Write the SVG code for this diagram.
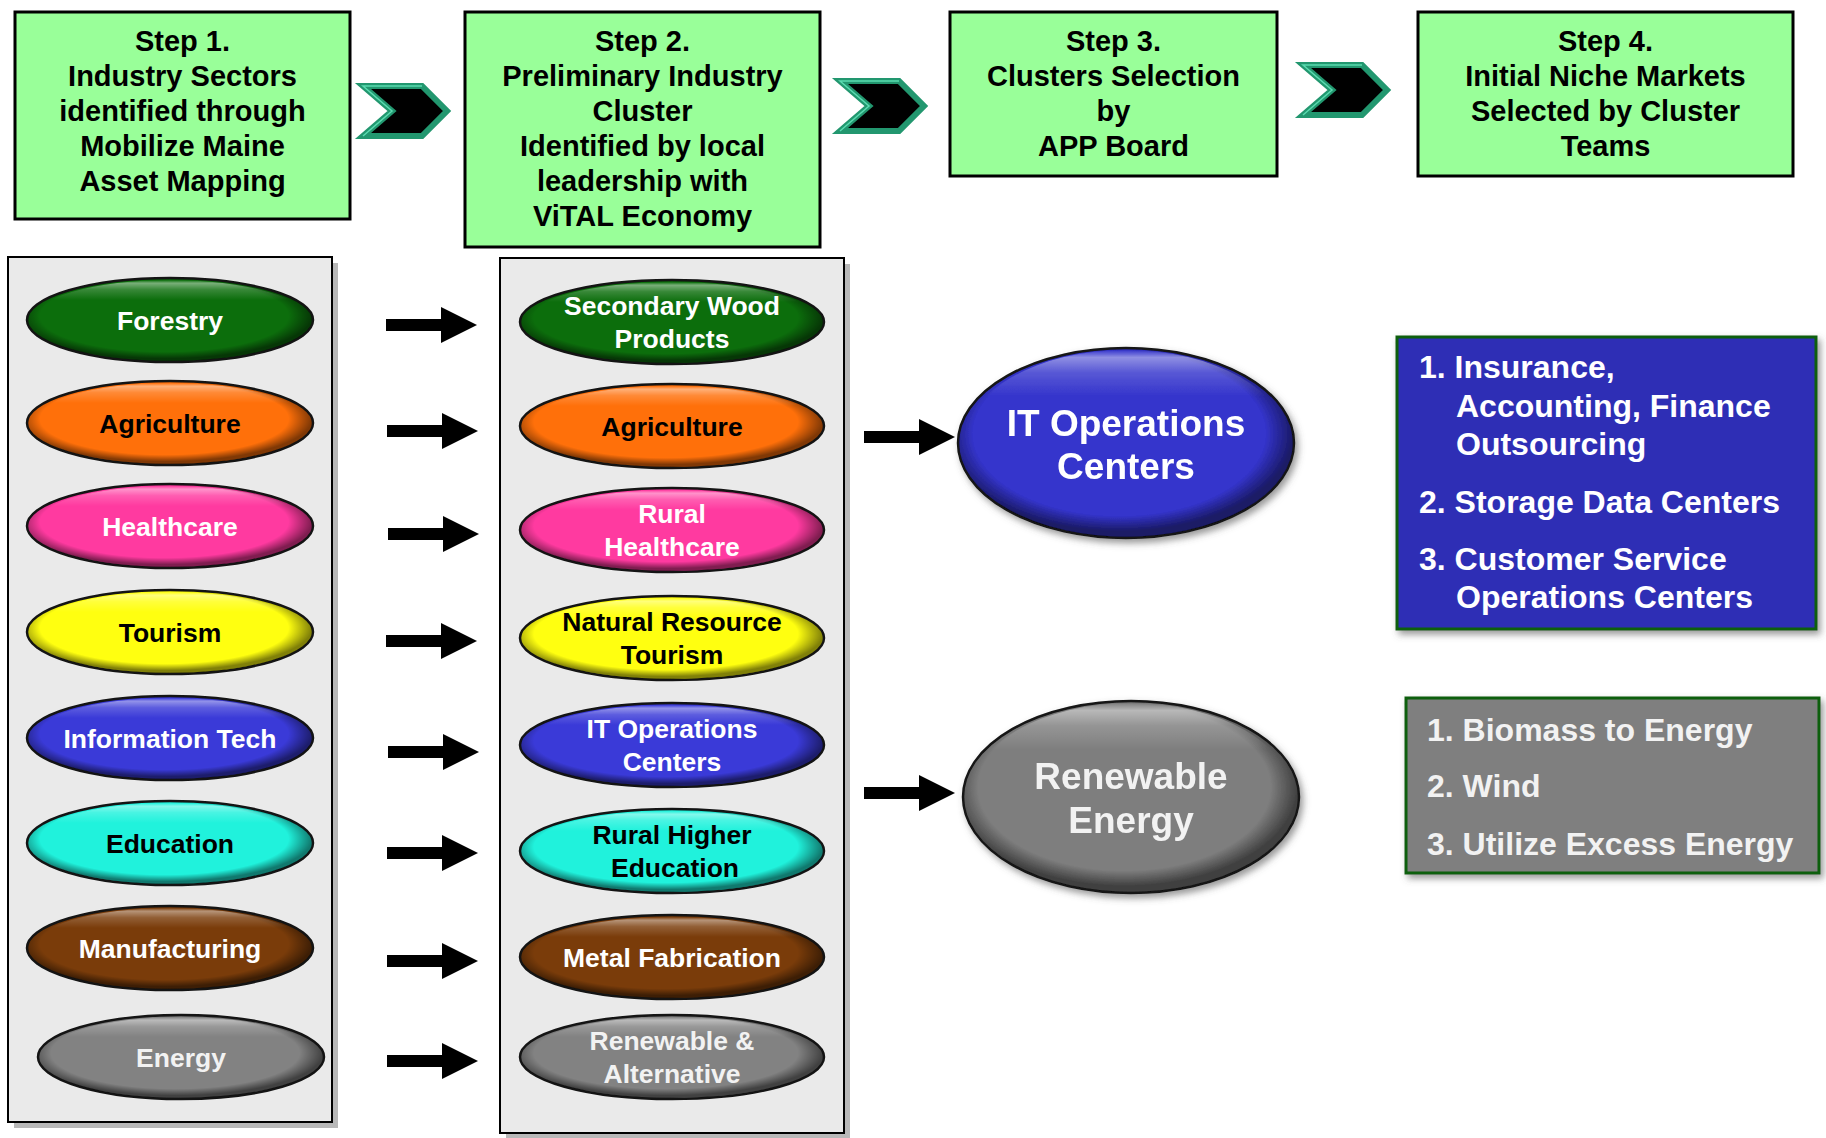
<svg xmlns="http://www.w3.org/2000/svg" width="1826" height="1138" viewBox="0 0 1826 1138">
<defs>
<style>
.step{fill:#99FF99;stroke:#000;stroke-width:3}
.t{font-family:"Liberation Sans",Arial,Helvetica,sans-serif;font-weight:bold;text-anchor:middle}
.st{font-size:29px;fill:#000}
.panel{fill:#EAEAEA;stroke:#000;stroke-width:2}
.pshadow{fill:#B8B8B8}
.pill{stroke:#141414;stroke-width:2.5}
.gloss{fill:url(#gloss)}
.rim{fill:url(#rim)}
.lt{font-size:26.5px}
.w{fill:#FFFFFF}
.g{fill:#F2F2F2}
.k{fill:#000000}
.big{font-size:37px}
.list{font-size:32px;text-anchor:start}
.box{stroke:#0B5E0B;stroke-width:3}
.chev{fill:#000;stroke:#22976F;stroke-width:6;stroke-linejoin:miter}
.chevhl{fill:none;stroke:#5ADBB0;stroke-width:1.5}
.arrow{fill:#000}
</style>
<linearGradient id="gloss" x1="0" y1="0" x2="0" y2="1">
<stop offset="0" stop-color="#fff" stop-opacity="0"/>
<stop offset="0.04" stop-color="#fff" stop-opacity="0.45"/>
<stop offset="0.12" stop-color="#fff" stop-opacity="0.18"/>
<stop offset="0.25" stop-color="#fff" stop-opacity="0"/>
<stop offset="1" stop-color="#fff" stop-opacity="0"/>
</linearGradient>
<radialGradient id="rim" cx="0.48" cy="0.45" r="0.52">
<stop offset="0" stop-color="#000" stop-opacity="0"/>
<stop offset="0.84" stop-color="#000" stop-opacity="0"/>
<stop offset="1" stop-color="#000" stop-opacity="0.5"/>
</radialGradient>
<filter id="soft" x="-10%" y="-10%" width="125%" height="130%">
<feGaussianBlur in="SourceAlpha" stdDeviation="3.5"/>
<feOffset dx="3" dy="4" result="b"/>
<feFlood flood-color="#555" flood-opacity="0.6"/>
<feComposite in2="b" operator="in"/>
<feMerge><feMergeNode/><feMergeNode in="SourceGraphic"/></feMerge>
</filter>
<path id="chev" d="M1,1 H60 L85,26 L60,51 H1 L30,26 Z"/>
<path id="chevh" d="M1,51 L30,26 L1,1 H60"/>
<path id="arr" d="M0,-6 H55 V-18 L91,0 L55,18 V6 H0 Z"/>
</defs>

<!-- Step boxes -->
<g id="step1">
<rect class="step" x="15" y="12" width="335" height="207"/>
<text class="t st" x="182.5" y="51">Step 1.</text>
<text class="t st" x="182.5" y="86">Industry Sectors</text>
<text class="t st" x="182.5" y="121">identified through</text>
<text class="t st" x="182.5" y="156">Mobilize Maine</text>
<text class="t st" x="182.5" y="191">Asset Mapping</text>
</g>
<g id="step2">
<rect class="step" x="465" y="12" width="355" height="235"/>
<text class="t st" x="642.5" y="51">Step 2.</text>
<text class="t st" x="642.5" y="86">Preliminary Industry</text>
<text class="t st" x="642.5" y="121">Cluster</text>
<text class="t st" x="642.5" y="156">Identified by local</text>
<text class="t st" x="642.5" y="191">leadership with</text>
<text class="t st" x="642.5" y="226">ViTAL Economy</text>
</g>
<g id="step3">
<rect class="step" x="950" y="12" width="327" height="164"/>
<text class="t st" x="1113.5" y="51">Step 3.</text>
<text class="t st" x="1113.5" y="86">Clusters Selection</text>
<text class="t st" x="1113.5" y="121">by</text>
<text class="t st" x="1113.5" y="156">APP Board</text>
</g>
<g id="step4">
<rect class="step" x="1418" y="12" width="375" height="164"/>
<text class="t st" x="1605.5" y="51">Step 4.</text>
<text class="t st" x="1605.5" y="86">Initial Niche Markets</text>
<text class="t st" x="1605.5" y="121">Selected by Cluster</text>
<text class="t st" x="1605.5" y="156">Teams</text>
</g>

<!-- Panels -->
<g id="panel-left">
<rect class="pshadow" x="14" y="263" width="324" height="865"/>
<rect class="panel" x="8" y="257" width="324" height="865"/>
</g>
<g id="panel-middle">
<rect class="pshadow" x="506" y="264" width="344" height="875"/>
<rect class="panel" x="500" y="258" width="344" height="875"/>
</g>

<!-- Left column sectors -->
<g id="forestry">
<ellipse class="pill" cx="170" cy="320" rx="143" ry="42" fill="#0C6E0C"/>
<ellipse class="rim" cx="170" cy="320" rx="142" ry="41"/>
<ellipse class="gloss" cx="170" cy="320" rx="138" ry="40"/>
<text class="t lt w" x="170" y="329.5">Forestry</text>
</g>
<g id="agriculture">
<ellipse class="pill" cx="170" cy="423" rx="143" ry="42" fill="#FF700A"/>
<ellipse class="rim" cx="170" cy="423" rx="142" ry="41"/>
<ellipse class="gloss" cx="170" cy="423" rx="138" ry="40"/>
<text class="t lt k" x="170" y="432.5">Agriculture</text>
</g>
<g id="healthcare">
<ellipse class="pill" cx="170" cy="526" rx="143" ry="42" fill="#FF3AA0"/>
<ellipse class="rim" cx="170" cy="526" rx="142" ry="41"/>
<ellipse class="gloss" cx="170" cy="526" rx="138" ry="40"/>
<text class="t lt w" x="170" y="535.5">Healthcare</text>
</g>
<g id="tourism">
<ellipse class="pill" cx="170" cy="632" rx="143" ry="42" fill="#FFFF10"/>
<ellipse class="rim" cx="170" cy="632" rx="142" ry="41"/>
<ellipse class="gloss" cx="170" cy="632" rx="138" ry="40"/>
<text class="t lt k" x="170" y="641.5">Tourism</text>
</g>
<g id="information-tech">
<ellipse class="pill" cx="170" cy="738" rx="143" ry="42" fill="#3A3AD8"/>
<ellipse class="rim" cx="170" cy="738" rx="142" ry="41"/>
<ellipse class="gloss" cx="170" cy="738" rx="138" ry="40"/>
<text class="t lt w" x="170" y="747.5">Information Tech</text>
</g>
<g id="education">
<ellipse class="pill" cx="170" cy="843" rx="143" ry="42" fill="#20F2DC"/>
<ellipse class="rim" cx="170" cy="843" rx="142" ry="41"/>
<ellipse class="gloss" cx="170" cy="843" rx="138" ry="40"/>
<text class="t lt k" x="170" y="852.5">Education</text>
</g>
<g id="manufacturing">
<ellipse class="pill" cx="170" cy="948" rx="143" ry="42" fill="#7A3C0A"/>
<ellipse class="rim" cx="170" cy="948" rx="142" ry="41"/>
<ellipse class="gloss" cx="170" cy="948" rx="138" ry="40"/>
<text class="t lt w" x="170" y="957.5">Manufacturing</text>
</g>
<g id="energy">
<ellipse class="pill" cx="181" cy="1057" rx="143" ry="42" fill="#828282"/>
<ellipse class="rim" cx="181" cy="1057" rx="142" ry="41"/>
<ellipse class="gloss" cx="181" cy="1057" rx="138" ry="40"/>
<text class="t lt g" x="181" y="1066.5">Energy</text>
</g>

<!-- Middle column clusters -->
<g id="secondary-wood">
<ellipse class="pill" cx="672" cy="322" rx="152" ry="42" fill="#0C6E0C"/>
<ellipse class="rim" cx="672" cy="322" rx="151" ry="41"/>
<ellipse class="gloss" cx="672" cy="322" rx="147" ry="40"/>
<text class="t lt w" x="672" y="315">Secondary Wood</text>
<text class="t lt w" x="672" y="348">Products</text>
</g>
<g id="agriculture-2">
<ellipse class="pill" cx="672" cy="426" rx="152" ry="42" fill="#FF700A"/>
<ellipse class="rim" cx="672" cy="426" rx="151" ry="41"/>
<ellipse class="gloss" cx="672" cy="426" rx="147" ry="40"/>
<text class="t lt k" x="672" y="435.5">Agriculture</text>
</g>
<g id="rural-healthcare">
<ellipse class="pill" cx="672" cy="530" rx="152" ry="42" fill="#FF3AA0"/>
<ellipse class="rim" cx="672" cy="530" rx="151" ry="41"/>
<ellipse class="gloss" cx="672" cy="530" rx="147" ry="40"/>
<text class="t lt w" x="672" y="523">Rural</text>
<text class="t lt w" x="672" y="556">Healthcare</text>
</g>
<g id="natural-resource-tourism">
<ellipse class="pill" cx="672" cy="638" rx="152" ry="42" fill="#FFFF10"/>
<ellipse class="rim" cx="672" cy="638" rx="151" ry="41"/>
<ellipse class="gloss" cx="672" cy="638" rx="147" ry="40"/>
<text class="t lt k" x="672" y="631">Natural Resource</text>
<text class="t lt k" x="672" y="664">Tourism</text>
</g>
<g id="it-operations-small">
<ellipse class="pill" cx="672" cy="745" rx="152" ry="42" fill="#3A3AD8"/>
<ellipse class="rim" cx="672" cy="745" rx="151" ry="41"/>
<ellipse class="gloss" cx="672" cy="745" rx="147" ry="40"/>
<text class="t lt w" x="672" y="738">IT Operations</text>
<text class="t lt w" x="672" y="771">Centers</text>
</g>
<g id="rural-higher-education">
<ellipse class="pill" cx="672" cy="851" rx="152" ry="42" fill="#20F2DC"/>
<ellipse class="rim" cx="672" cy="851" rx="151" ry="41"/>
<ellipse class="gloss" cx="672" cy="851" rx="147" ry="40"/>
<text class="t lt k" x="672" y="844">Rural Higher</text>
<text class="t lt k" x="675" y="877">Education</text>
</g>
<g id="metal-fabrication">
<ellipse class="pill" cx="672" cy="957" rx="152" ry="42" fill="#7A3C0A"/>
<ellipse class="rim" cx="672" cy="957" rx="151" ry="41"/>
<ellipse class="gloss" cx="672" cy="957" rx="147" ry="40"/>
<text class="t lt w" x="672" y="966.5">Metal Fabrication</text>
</g>
<g id="renewable-alternative">
<ellipse class="pill" cx="672" cy="1057" rx="152" ry="42" fill="#828282"/>
<ellipse class="rim" cx="672" cy="1057" rx="151" ry="41"/>
<ellipse class="gloss" cx="672" cy="1057" rx="147" ry="40"/>
<text class="t lt g" x="672" y="1050">Renewable &amp;</text>
<text class="t lt g" x="672" y="1083">Alternative</text>
</g>

<!-- Selected clusters -->
<g id="it-operations-centers" filter="url(#soft)">
<ellipse class="pill" cx="1126" cy="443" rx="168" ry="95" fill="#3434CC"/>
<ellipse class="rim" cx="1126" cy="443" rx="167" ry="94"/>
<ellipse class="gloss" cx="1126" cy="443" rx="162" ry="93"/>
<text class="t big w" x="1126" y="436">IT Operations</text>
<text class="t big w" x="1126" y="479">Centers</text>
</g>
<g id="renewable-energy" filter="url(#soft)">
<ellipse class="pill" cx="1131" cy="797" rx="168" ry="96" fill="#7E7E7E"/>
<ellipse class="rim" cx="1131" cy="797" rx="167" ry="95"/>
<ellipse class="gloss" cx="1131" cy="797" rx="162" ry="94"/>
<text class="t big g" x="1131" y="789">Renewable</text>
<text class="t big g" x="1131" y="833">Energy</text>
</g>

<!-- Niche market lists -->
<g id="it-niche-markets">
<rect class="box" x="1397" y="337" width="419" height="292" fill="#2F2FB5" filter="url(#soft)"/>
<text class="t list w" x="1419" y="378">1. Insurance,</text>
<text class="t list w" x="1456" y="417">Accounting, Finance</text>
<text class="t list w" x="1456" y="455">Outsourcing</text>
<text class="t list w" x="1419" y="513">2. Storage Data Centers</text>
<text class="t list w" x="1419" y="570">3. Customer Service</text>
<text class="t list w" x="1456" y="608">Operations Centers</text>
</g>
<g id="energy-niche-markets">
<rect class="box" x="1406" y="698" width="413" height="175" fill="#7F7F7F" filter="url(#soft)"/>
<text class="t list g" x="1427" y="741">1. Biomass to Energy</text>
<text class="t list g" x="1427" y="797">2. Wind</text>
<text class="t list g" x="1427" y="855">3. Utilize Excess Energy</text>
</g>

<!-- Connectors -->
<g id="connectors">
<g id="chevrons">
<use href="#chev" class="chev" transform="translate(362,85)"/>
<use href="#chevh" class="chevhl" transform="translate(362,85)"/>
<use href="#chev" class="chev" transform="translate(839,80)"/>
<use href="#chevh" class="chevhl" transform="translate(839,80)"/>
<use href="#chev" class="chev" transform="translate(1302,64)"/>
<use href="#chevh" class="chevhl" transform="translate(1302,64)"/>
</g>
<g id="arrows">
<use href="#arr" class="arrow" transform="translate(386,325)"/>
<use href="#arr" class="arrow" transform="translate(387,431)"/>
<use href="#arr" class="arrow" transform="translate(388,534)"/>
<use href="#arr" class="arrow" transform="translate(386,641)"/>
<use href="#arr" class="arrow" transform="translate(388,752)"/>
<use href="#arr" class="arrow" transform="translate(387,853)"/>
<use href="#arr" class="arrow" transform="translate(387,961)"/>
<use href="#arr" class="arrow" transform="translate(387,1061)"/>
<use href="#arr" class="arrow" transform="translate(864,437)"/>
<use href="#arr" class="arrow" transform="translate(864,793)"/>
</g>
</g>
</svg>
